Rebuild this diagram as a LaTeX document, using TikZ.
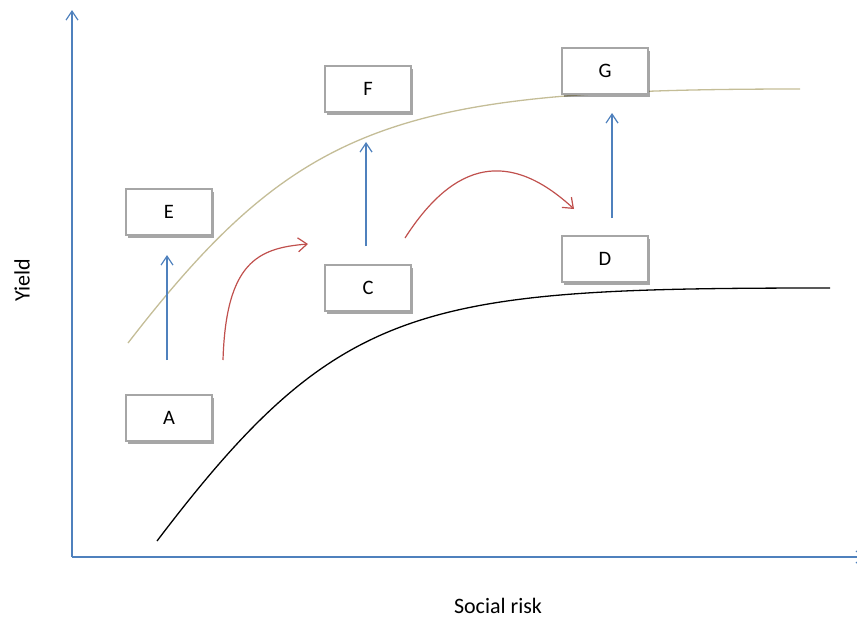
\documentclass[tikz,border=0pt]{standalone}
\usepackage{fontspec}
\setmainfont{Carlito}
\usetikzlibrary{arrows.meta,shadows}
\definecolor{axisblue}{HTML}{4F81BD}
\definecolor{arrred}{HTML}{C0504D}
\definecolor{tancurve}{HTML}{C4BD97}
\definecolor{boxgray}{HTML}{A6A6A6}
\tikzset{
  box/.style={draw=boxgray, line width=1.2pt, fill=white, minimum width=86pt, minimum height=46pt,
    inner sep=0pt, font=\fontsize{20.5}{24}\selectfont,
    drop shadow={shadow xshift=2pt, shadow yshift=-2.5pt, fill=black, opacity=0.35}},
  axis/.style={draw=axisblue, line width=1.2pt, -{Straight Barb[length=9pt,width=12pt]}},
  uparr/.style={draw=axisblue, line width=1.2pt, -{Straight Barb[length=9pt,width=12pt]}},
  redarr/.style={draw=arrred, line width=1.2pt, -{Straight Barb[length=9pt,width=14pt]}},
  lbl/.style={font=\fontsize{22}{26}\selectfont, inner sep=0pt}
}
\begin{document}
\begin{tikzpicture}[x=1pt,y=-1pt]
\useasboundingbox (0,0) rectangle (857,619);
% axes
\coordinate (O) at (72,557);
\coordinate (Ytop) at (72,10);
\coordinate (Xend) at (866,557);
\draw[axis] (O) -- (Ytop);
\draw[axis] (O) -- (Xend);
% curves
\coordinate (b0) at (157,541);
\coordinate (b1) at (830,288);
\draw[black, line width=1.3pt] (b0) .. controls (340,300) and (420,288) .. (b1);
\coordinate (t0) at (128,343);
\coordinate (t1) at (800,89);
\draw[tancurve, line width=1.3pt] (t0) .. controls (300,120) and (400,89) .. (t1);
% boxes
\node[box] (A) at (169,418) {A};
\node[box] (E) at (169,212) {E};
\node[box] (C) at (368,288) {C};
\node[box] (F) at (368,89) {F};
\node[box] (D) at (605,259) {D};
\node[box] (G) at (605,71) {G};
% blue arrows
\coordinate (a1s) at (167,360);
\coordinate (a1e) at (167,255);
\coordinate (a2s) at (366,246);
\coordinate (a2e) at (366,142);
\coordinate (a3s) at (612,218);
\coordinate (a3e) at (612,113);
\draw[uparr] (a1s) -- (a1e);
\draw[uparr] (a2s) -- (a2e);
\draw[uparr] (a3s) -- (a3e);
% red arrows
\coordinate (r1s) at (223,360);
\coordinate (r1e) at (308,244);
\coordinate (r2s) at (405,238);
\coordinate (r2e) at (574,209);
\draw[redarr] (r1s) .. controls (226,262) and (258,248) .. (r1e);
\draw[redarr] (r2s) .. controls (455,160) and (510,150) .. (r2e);
% labels
\node[lbl, rotate=90] (ylab) at (22,280) {Yield};
\node[lbl] (xlab) at (498,606) {Social risk};
\end{tikzpicture}
\end{document}
